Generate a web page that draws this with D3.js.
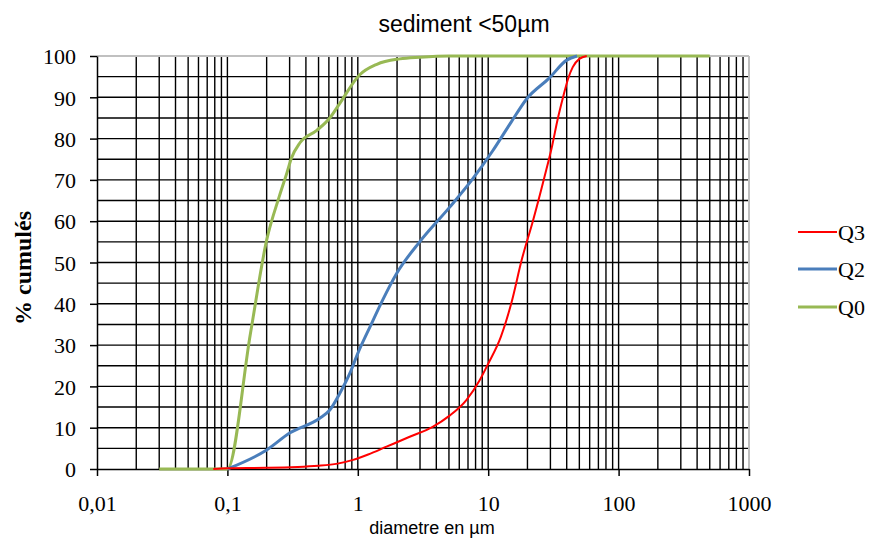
<!DOCTYPE html>
<html><head><meta charset="utf-8">
<script src="https://cdn.jsdelivr.net/npm/d3@7"></script>
<style>body{margin:0;background:#fff}</style>
</head><body><svg id="c" width="872" height="539"></svg>
<script>
const title = "sediment <50µm";
const xLabel = "diametre en µm";
const yLabel = "% cumulés";
const xTickValues = [0.01, 0.1, 1, 10, 100, 1000];
const xTickLabels = ["0,01", "0,1", "1", "10", "100", "1000"];
const yTickValues = [0, 10, 20, 30, 40, 50, 60, 70, 80, 90, 100];
const seriesNames = ["Q3", "Q2", "Q0"];
const q3x = [0.078, 0.1, 0.2, 0.5, 0.7, 0.92, 1.2, 1.66, 2.5, 3.75, 5, 6.8, 8.6, 10, 12.5, 15, 18.2, 22, 27, 31, 34, 37.5, 41, 44.5, 50, 57];
const q3y = [0, 0.2, 0.3, 0.8, 1.3, 2.2, 3.5, 5.4, 7.8, 10.2, 12.8, 16.7, 21.5, 25.5, 32, 40, 51, 60, 70.7, 78.4, 84.5, 90, 94.5, 97.3, 99.3, 100];
const q2x = [0.1, 0.2, 0.3, 0.51, 0.61, 0.73, 0.87, 1.0, 1.24, 1.55, 1.99, 2.98, 5.07, 7.5, 10.8, 15, 19.7, 29.5, 40, 48];
const q2y = [0, 4.6, 8.7, 12.3, 14.3, 18.4, 23.2, 28, 34.4, 40.9, 47.4, 55, 63.4, 70, 77, 84, 89.6, 94.7, 99, 100];
const q0x = [0.03, 0.1, 0.15, 0.2, 0.25, 0.286, 0.31, 0.36, 0.485, 0.61, 0.73, 1.03, 1.4, 2.1, 3, 5, 10, 500];
const q0y = [0, 0, 32.7, 55.4, 66, 71.7, 75.3, 79, 82, 85, 88.6, 95.4, 98, 99.3, 99.7, 100, 100, 100];
const colors = ["#ff0000", "#4a7ebb", "#98b954"];
const widths = [2, 3, 3];

const svg = d3.select("#c");
const x = d3.scaleLog().domain([0.01, 1000]).range([97, 749]);
const y = d3.scaleLinear().domain([0, 100]).range([469, 56]);

// grid
const g = svg.append("g");
const vlines = [];
for (let e = -2; e < 3; e++) for (let m = 2; m <= 9; m++) vlines.push(m * Math.pow(10, e));
vlines.push(0.1, 1, 10, 100);
g.selectAll("line.v").data(vlines).join("line")
  .attr("x1", d => x(d)).attr("x2", d => x(d))
  .attr("y1", y(100)).attr("y2", y(0))
  .attr("stroke", "#000").attr("stroke-width", 1.4);
const hl = d3.range(5, 100, 5);
g.selectAll("line.h").data(hl).join("line")
  .attr("x1", x(0.01)).attr("x2", x(1000))
  .attr("y1", d => y(d)).attr("y2", d => y(d))
  .attr("stroke", "#000").attr("stroke-width", 1.4);
// top & right border
svg.append("line").attr("x1", x(0.01)).attr("x2", x(1000)).attr("y1", y(100)).attr("y2", y(100))
  .attr("stroke", "#c0c0c0").attr("stroke-width", 2);
svg.append("line").attr("x1", x(1000)).attr("x2", x(1000)).attr("y1", y(100)).attr("y2", y(0))
  .attr("stroke", "#c0c0c0").attr("stroke-width", 2);

// axes
const xAxis = d3.axisBottom(x).tickValues(xTickValues).tickFormat((d, i) => xTickLabels[i]).tickSizeInner(7).tickSizeOuter(0).tickPadding(19);
const gx = svg.append("g").attr("transform", `translate(0,${y(0)})`).call(xAxis);
const yAxis = d3.axisLeft(y).tickValues(yTickValues).tickSizeInner(7).tickSizeOuter(0).tickPadding(14);
const gy = svg.append("g").attr("transform", `translate(${x(0.01)},0)`).call(yAxis);
[gx, gy].forEach(a => {
  a.select(".domain").attr("stroke", "#000").attr("stroke-width", 1.5);
  a.selectAll(".tick line").attr("stroke", "#000").attr("stroke-width", 1.5);
  a.selectAll("text").attr("font-family", "Liberation Serif, Times New Roman, serif").attr("font-size", 22).attr("fill", "#000");
});
gy.selectAll("text").attr("dy", "0.35em");

// lines
const xs = [q3x, q2x, q0x], ys = [q3y, q2y, q0y];
const line = d3.line().x(d => x(d[0])).y(d => y(d[1])).curve(d3.curveMonotoneX);
[2, 1, 0].forEach(i => {
  const data = xs[i].map((v, k) => [v, ys[i][k]]);
  svg.append("path").datum(data).attr("d", line).attr("fill", "none")
    .attr("stroke", colors[i]).attr("stroke-width", widths[i]).attr("stroke-linejoin", "round");
});

// legend
const legY = [232, 269, 307];
seriesNames.forEach((n, i) => {
  svg.append("line").attr("x1", 798).attr("x2", 837).attr("y1", legY[i]).attr("y2", legY[i])
    .attr("stroke", colors[i]).attr("stroke-width", widths[i]);
  svg.append("text").attr("x", 838).attr("y", legY[i]).attr("dy", "0.35em")
    .attr("font-family", "Liberation Serif, Times New Roman, serif").attr("font-size", 22).text(n);
});

// titles
svg.append("text").attr("x", 464).attr("y", 32).attr("text-anchor", "middle")
  .attr("font-family", "Liberation Sans, Arial, sans-serif").attr("font-size", 23).text(title);
svg.append("text").attr("x", 432).attr("y", 534).attr("text-anchor", "middle")
  .attr("font-family", "Liberation Sans, Arial, sans-serif").attr("font-size", 18).text(xLabel);
svg.append("text").attr("transform", "translate(31,268) rotate(-90)").attr("text-anchor", "middle")
  .attr("font-family", "Liberation Serif, Times New Roman, serif").attr("font-weight", "bold").attr("font-size", 24).text(yLabel);
</script></body></html>
